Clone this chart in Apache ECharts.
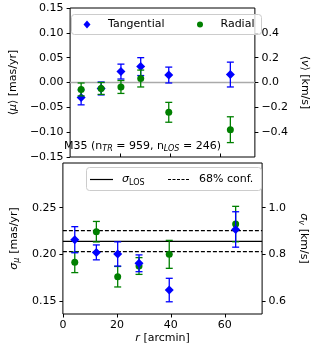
<!DOCTYPE html>
<html>
<head>
<meta charset="utf-8">
<script src="https://cdn.jsdelivr.net/npm/echarts@6/dist/echarts.min.js"></script>
<style>
html,body{margin:0;padding:0;background:#fff;}
#chart{width:318px;height:348px;}
</style>
</head>
<body>
<div id="chart"></div>
<script>
// ---- data ----
const radii = [4.4, 12.4, 20.3, 28.2, 39.4, 64.0];
const tanMu = [-0.030, -0.012, 0.022, 0.032, 0.015, 0.016];
const tanMuErr = [0.015, 0.013, 0.015, 0.018, 0.016, 0.025];
const radMu = [-0.014, -0.012, -0.009, 0.008, -0.060, -0.095];
const radMuErr = [0.013, 0.012, 0.013, 0.017, 0.020, 0.026];
const tanSig = [0.2157, 0.2021, 0.2004, 0.1904, 0.1617, 0.2267];
const tanSigErr = [0.014, 0.008, 0.013, 0.009, 0.0126, 0.019];
const radSig = [0.1914, 0.2243, 0.1760, 0.1875, 0.2000, 0.2325];
const radSigErr = [0.011, 0.011, 0.011, 0.009, 0.015, 0.019];
const zeroLevel = [0];
const sigmaLOS = [0.2139];
const sigmaConf = [0.2029, 0.2254];
const xTicks = [0, 20, 40, 60];
const muTicks = [-0.15, -0.10, -0.05, 0.00, 0.05, 0.10, 0.15];
const vTicks = [-0.4, -0.2, 0.0, 0.2, 0.4];
const sigMuTicks = [0.15, 0.20, 0.25];
const sigVTicks = [0.6, 0.8, 1.0];

const BLUE = '#0000ff', GREEN = '#008000';
const FONT = 'DejaVu Sans';
const XMAX = 73.8;

function fmt(v, d) {
  const s = Math.abs(v).toFixed(d);
  return (v < -1e-9 ? '\u2212' : '') + s;
}

function errSeries(name, xi, yi, xs, ys, es, color, z) {
  return {
    type: 'custom', name: name, xAxisIndex: xi, yAxisIndex: yi, z: z, clip: false, silent: true,
    data: xs.map((x, i) => [x, ys[i], es[i]]),
    encode: {x: 0, y: 1},
    renderItem: function (params, api) {
      const x = api.value(0), y = api.value(1), e = api.value(2);
      const t = api.coord([x, y + e]);
      const b = api.coord([x, y - e]);
      const cap = 3.5;
      const st = {stroke: color, lineWidth: 1.3};
      return {type: 'group', children: [
        {type: 'line', shape: {x1: t[0], y1: t[1], x2: b[0], y2: b[1]}, style: st},
        {type: 'line', shape: {x1: t[0] - cap, y1: t[1], x2: t[0] + cap, y2: t[1]}, style: st},
        {type: 'line', shape: {x1: b[0] - cap, y1: b[1], x2: b[0] + cap, y2: b[1]}, style: st}
      ]};
    }
  };
}
function markerSeries(name, xi, yi, xs, ys, color, symbol, size, z) {
  return {
    type: 'scatter', name: name, xAxisIndex: xi, yAxisIndex: yi, z: z, silent: true,
    symbol: symbol, symbolSize: size,
    itemStyle: {color: color, opacity: 1},
    data: xs.map((x, i) => [x, ys[i]])
  };
}
function hLine(name, xi, yi, y, type, color, width) {
  return {
    type: 'line', name: name, xAxisIndex: xi, yAxisIndex: yi, symbol: 'none', silent: true, z: 1,
    showSymbol: false,
    lineStyle: {color: color, width: width, type: type},
    data: [[0, y], [XMAX, y]]
  };
}

const labelStyle = {color: '#000', fontFamily: FONT, fontSize: 11};
const rich = {
  n: {fontFamily: FONT, fontSize: 11, color: '#000', lineHeight: 14},
  i: {fontFamily: FONT, fontSize: 11, color: '#000', fontStyle: 'italic', lineHeight: 14},
  sub: {fontFamily: FONT, fontSize: 8, color: '#000', fontStyle: 'italic', verticalAlign: 'bottom', lineHeight: 8},
  subr: {fontFamily: FONT, fontSize: 8, color: '#000', verticalAlign: 'bottom', lineHeight: 8}
};

const chart = echarts.init(document.getElementById('chart'), null, {renderer: 'canvas'});

const grids = [
  {left: 57, right: 52, top: 8, height: 149, show: true, borderColor: '#000', borderWidth: 1, backgroundColor: 'transparent'},
  {left: 57, right: 52, top: 163, height: 151, show: true, borderColor: '#000', borderWidth: 1, backgroundColor: 'transparent'}
];

const xAxes = [
  {gridIndex: 0, type: 'value', min: 0, max: XMAX, position: 'bottom',
   axisLine: {show: false, onZero: false}, splitLine: {show: false},
   axisTick: {show: true, inside: true, length: 3.5, lineStyle: {color: '#000'}, customValues: xTicks.slice(1)},
   axisLabel: {show: false}},
  {gridIndex: 1, type: 'value', min: 0, max: XMAX, position: 'bottom',
   axisLine: {show: false, onZero: false}, splitLine: {show: false},
   axisTick: {show: true, length: 3.5, lineStyle: {color: '#000'}, customValues: xTicks},
   axisLabel: Object.assign({show: true, margin: 6, customValues: xTicks, formatter: v => String(Math.round(v))}, labelStyle),
   name: '{i|r} {n|[arcmin]}', nameLocation: 'middle', nameGap: 17,
   nameTextStyle: {rich: rich}}
];

const yAxes = [
  {gridIndex: 0, type: 'value', position: 'left', min: -0.15, max: 0.15,
   axisLine: {show: false, onZero: false}, splitLine: {show: false},
   axisTick: {show: true, length: 3.5, lineStyle: {color: '#000'}, customValues: muTicks},
   axisLabel: Object.assign({margin: 6.5, customValues: muTicks, formatter: v => fmt(v, 2)}, labelStyle),
   name: '{n|\u27e8}{i|\u03bc}{n|\u27e9 [mas/yr]}', nameLocation: 'middle', nameRotate: 90, nameGap: 40,
   nameTextStyle: {rich: rich}},
  {gridIndex: 0, type: 'value', position: 'right', min: -0.6, max: 0.6,
   axisLine: {show: false, onZero: false}, splitLine: {show: false},
   axisTick: {show: true, length: 3.5, lineStyle: {color: '#000'}, customValues: vTicks},
   axisLabel: Object.assign({margin: 6.5, customValues: vTicks, formatter: v => fmt(v, 1)}, labelStyle),
   name: '{n|\u27e8}{i|v}{n|\u27e9 [km/s]}', nameLocation: 'middle', nameRotate: -90, nameGap: 33,
   nameTextStyle: {rich: rich}},
  {gridIndex: 1, type: 'value', position: 'left', min: 0.136, max: 0.298,
   axisLine: {show: false, onZero: false}, splitLine: {show: false},
   axisTick: {show: true, length: 3.5, lineStyle: {color: '#000'}, customValues: sigMuTicks},
   axisLabel: Object.assign({margin: 6.5, customValues: sigMuTicks, formatter: v => fmt(v, 2)}, labelStyle),
   name: '{i|\u03c3}{sub|\u03bc} {n|[mas/yr]}', nameLocation: 'middle', nameRotate: 90, nameGap: 40,
   nameTextStyle: {rich: rich}},
  {gridIndex: 1, type: 'value', position: 'right', min: 0.544, max: 1.192,
   axisLine: {show: false, onZero: false}, splitLine: {show: false},
   axisTick: {show: true, length: 3.5, lineStyle: {color: '#000'}, customValues: sigVTicks},
   axisLabel: Object.assign({margin: 6.5, customValues: sigVTicks, formatter: v => fmt(v, 1)}, labelStyle),
   name: '{i|\u03c3}{sub|v} {n|[km/s]}', nameLocation: 'middle', nameRotate: -90, nameGap: 33,
   nameTextStyle: {rich: rich}}
];

const series = [
  // zero reference line in the top panel
  hLine('zero', 0, 0, zeroLevel[0], 'solid', '#aaaaaa', 1.5),
  errSeries('Tangential err', 0, 0, radii, tanMu, tanMuErr, BLUE, 3),
  markerSeries('Tangential', 0, 0, radii, tanMu, BLUE, 'diamond', 9, 4),
  errSeries('Radial err', 0, 0, radii, radMu, radMuErr, GREEN, 5),
  markerSeries('Radial', 0, 0, radii, radMu, GREEN, 'circle', 7, 6),
  // bottom panel
  hLine('sigma_LOS', 1, 2, sigmaLOS[0], 'solid', '#000', 1.2),
  hLine('68% conf. low', 1, 2, sigmaConf[0], [4, 2], '#000', 1.2),
  hLine('68% conf. high', 1, 2, sigmaConf[1], [4, 2], '#000', 1.2),
  errSeries('Radial err', 1, 2, radii, radSig, radSigErr, GREEN, 3),
  markerSeries('Radial', 1, 2, radii, radSig, GREEN, 'circle', 7, 4),
  errSeries('Tangential err', 1, 2, radii, tanSig, tanSigErr, BLUE, 5),
  markerSeries('Tangential', 1, 2, radii, tanSig, BLUE, 'diamond', 9, 6)
];

const legendBox = {fill: 'rgba(255,255,255,0.8)', stroke: '#cccccc', lineWidth: 1};
const graphic = [
  // top legend
  {type: 'rect', shape: {x: 71.5, y: 14.5, width: 190, height: 20, r: 3}, style: legendBox, z: 50},
  {type: 'polygon', shape: {points: [[87, 20.5], [90.5, 24.5], [87, 28.5], [83.5, 24.5]]}, style: {fill: BLUE}, z: 51},
  {type: 'text', x: 108, y: 24.5, style: {text: 'Tangential', fontFamily: FONT, fontSize: 11, fill: '#000', verticalAlign: 'middle'}, z: 51},
  {type: 'circle', shape: {cx: 200, cy: 24.5, r: 3}, style: {fill: GREEN}, z: 51},
  {type: 'text', x: 220.5, y: 24.5, style: {text: 'Radial', fontFamily: FONT, fontSize: 11, fill: '#000', verticalAlign: 'middle'}, z: 51},
  // annotation
  {type: 'text', x: 64, y: 146, z: 51, style: {
    text: '{n|M35 (n}{sub|TR}{n| = 959, n}{sub|LOS}{n| = 246)}', rich: rich, verticalAlign: 'middle'}},
  // bottom legend
  {type: 'rect', shape: {x: 86.5, y: 167.5, width: 175, height: 23, r: 3}, style: legendBox, z: 50},
  {type: 'line', shape: {x1: 90, y1: 179.5, x2: 113, y2: 179.5}, style: {stroke: '#000', lineWidth: 1.2}, z: 51},
  {type: 'text', x: 122, y: 179.5, z: 51, style: {text: '{i|\u03c3}{subr|LOS}', rich: rich, verticalAlign: 'middle'}},
  {type: 'line', shape: {x1: 168, y1: 179.5, x2: 190, y2: 179.5}, style: {stroke: '#000', lineWidth: 1.2, lineDash: [3, 1.5]}, z: 51},
  {type: 'text', x: 199, y: 179.5, z: 51, style: {text: '68% conf.', fontFamily: FONT, fontSize: 11, fill: '#000', verticalAlign: 'middle'}}
];

chart.setOption({
  animation: false,
  backgroundColor: '#fff',
  textStyle: {fontFamily: FONT},
  grid: grids,
  xAxis: xAxes,
  yAxis: yAxes,
  series: series,
  graphic: graphic
});
</script>
</body>
</html>
